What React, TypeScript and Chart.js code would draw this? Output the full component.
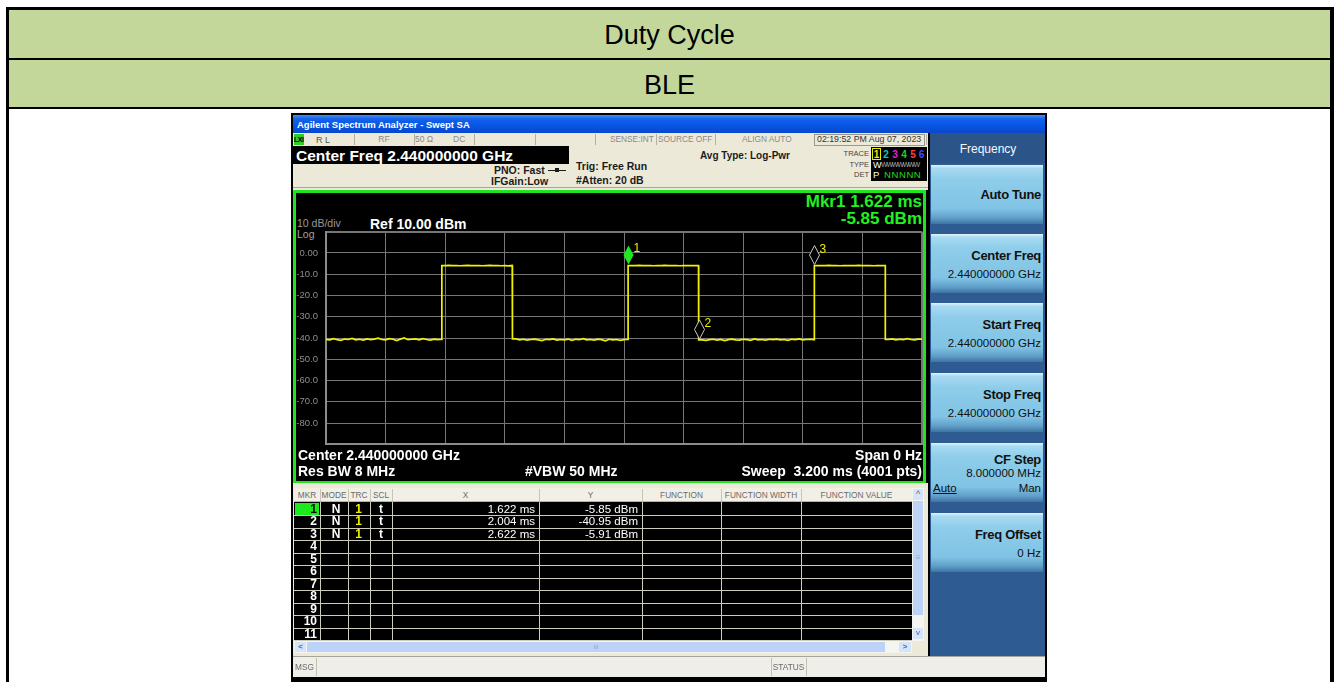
import React, { useEffect, useRef } from 'react';
import { Chart, registerables } from 'chart.js';
Chart.register(...registerables);

// ---------- data ----------
const titleRows = ['Duty Cycle', 'BLE'];

const sweepMs = 3.2;
const traceStepMs = 0.02;
const noiseA = [-40.6, -40.9, -40.3, -40.8, -41.1, -40.5, -40.7, -40.2, -40.9, -40.6, -41.0, -40.4, -40.8, -40.5, -40.1, -40.7, -40.9, -40.3, -40.6, -41.2, -40.5, -40.0, -40.8, -40.6, -40.4, -40.9, -40.3, -40.7, -41.0, -40.5, -40.8, -40.6];
const pulse1 = [-5.9, -5.8, -5.9, -5.9, -6.0, -5.9, -5.8, -5.9, -5.9, -5.9, -6.0, -5.9, -5.8, -5.9, -5.9, -6.0, -5.9, -6.1, -5.9];
const noiseB = [-40.4, -40.9, -40.6, -41.0, -40.7, -40.5, -40.9, -41.2, -40.6, -40.8, -40.4, -41.0, -40.7, -40.9, -40.5, -41.1, -40.6, -40.8, -40.3, -40.9, -40.7, -41.0, -40.5, -40.8, -41.3, -40.6, -40.9, -40.7, -41.1, -40.8, -40.6];
const pulse2 = [-5.9, -5.9, -5.8, -5.9, -5.9, -5.9, -6.0, -5.9, -5.9, -5.8, -5.9, -5.9, -5.9, -6.0, -5.9, -5.9, -5.9, -5.9, -5.9];
const noiseC = [-40.9, -41.1, -40.8, -40.6, -41.0, -40.7, -41.2, -40.8, -40.5, -40.9, -41.0, -40.6, -40.8, -41.1, -40.4, -40.9, -40.7, -41.0, -40.6, -40.8, -40.5, -40.9, -40.7, -41.1, -40.6, -40.8, -40.4, -40.9, -40.7, -40.6, -40.8];
const pulse3 = [-5.9, -5.9, -5.9, -5.8, -5.9, -5.9, -6.0, -5.9, -5.9, -5.9, -5.9, -5.8, -5.9, -5.9, -5.9, -6.0, -5.9, -5.9, -5.9];
const noiseD = [-40.7, -40.4, -40.9, -40.6, -40.8, -40.3, -40.7, -40.9, -40.5, -40.6];
const edgeTimesMs = [0.622, 1.001, 1.622, 2.001, 2.622, 3.003];

const xDivisionsMs = [0, 0.32, 0.64, 0.96, 1.28, 1.6, 1.92, 2.24, 2.56, 2.88, 3.2];
const yDivisionsDbm = [10, 0, -10, -20, -30, -40, -50, -60, -70, -80, -90];

const markerIds = [1, 2, 3];
const markerTimesMs = [1.622, 2.004, 2.622];
const markerLevelsDbm = [-5.85, -40.95, -5.91];
const markerModes = ['N', 'N', 'N'];
const markerTraces = ['1', '1', '1'];
const markerScales = ['t', 't', 't'];
const tableRowIds = ['1', '2', '3', '4', '5', '6', '7', '8', '9', '10', '11'];
const tableHeaders = ['MKR', 'MODE', 'TRC', 'SCL', 'X', 'Y', 'FUNCTION', 'FUNCTION WIDTH', 'FUNCTION VALUE'];

const softkeyTitles = ['Auto Tune', 'Center Freq', 'Start Freq', 'Stop Freq', 'CF Step', 'Freq Offset'];
const softkeyValues = ['', '2.440000000 GHz', '2.440000000 GHz', '2.440000000 GHz', '8.000000 MHz', '0 Hz'];

// ---------- helpers ----------
const W = 1335;
const F = '"Liberation Sans", Arial, Helvetica, sans-serif';

const Box = ({ x, y, w, h, bg, style, children }: any) => (
  <div style={{ position: 'absolute', left: x, top: y, width: w, height: h, background: bg, ...style }}>{children}</div>
);

const T = ({ x, y, t, s = 12, b = false, c = '#000', a = 'l', st }: any) => {
  const lh = Math.ceil(s * 1.25);
  const base: any = {
    position: 'absolute', top: y - lh / 2, lineHeight: lh + 'px', height: lh, fontSize: s,
    fontWeight: b ? 700 : 400, color: c, fontFamily: F, whiteSpace: 'pre', ...st,
  };
  if (a === 'l') base.left = x;
  else if (a === 'r') base.right = W - x;
  else { base.left = x - 300; base.width = 600; base.textAlign = 'center'; }
  return <div style={base}>{t}</div>;
};

function buildTrace() {
  const dbm = [...noiseA, ...pulse1, ...noiseB, ...pulse2, ...noiseC, ...pulse3, ...noiseD];
  const pts: any[] = [];
  let e = 0;
  dbm.forEach((v, i) => {
    const t = +(i * traceStepMs).toFixed(4);
    while (e < edgeTimesMs.length && edgeTimesMs[e] <= t) {
      pts.push({ x: edgeTimesMs[e], y: dbm[i - 1] });
      pts.push({ x: edgeTimesMs[e], y: v });
      e++;
    }
    pts.push({ x: t, y: v });
  });
  return pts;
}

const yLabel = (v: number) => (v === 0 ? '0.00' : v >= 10 || v <= -90 ? '' : v.toFixed(1));

const markerPlugin = {
  id: 'markers',
  afterDatasetsDraw(chart: any) {
    const { ctx } = chart;
    const xs = chart.scales.x;
    const ys = chart.scales.y;
    ctx.save();
    markerTimesMs.forEach((t, i) => {
      const px = Math.round(xs.getPixelForValue(t)) + 0.5;
      const py = ys.getPixelForValue(markerLevelsDbm[i]) - 1;
      const hw = 5, h = 19;
      ctx.beginPath();
      ctx.moveTo(px, py);
      ctx.lineTo(px + hw, py - h / 2);
      ctx.lineTo(px, py - h);
      ctx.lineTo(px - hw, py - h / 2);
      ctx.closePath();
      if (i === 0) {
        ctx.fillStyle = '#1ee81e';
        ctx.fill();
      } else {
        ctx.fillStyle = '#000';
        ctx.fill();
        ctx.strokeStyle = '#c8c8c8';
        ctx.lineWidth = 1;
        ctx.stroke();
      }
      ctx.fillStyle = '#f0f000';
      ctx.font = '12px "Liberation Sans"';
      ctx.textBaseline = 'alphabetic';
      ctx.textAlign = 'left';
      ctx.fillText(String(markerIds[i]), px + 5, py - 12);
    });
    ctx.restore();
  },
};

function TracePlot() {
  const ref = useRef<HTMLCanvasElement>(null);
  useEffect(() => {
    const gridW = (edge: any[]) => (c: any) => (c.tick && edge.includes(c.tick.value) ? 2 : 1);
    const chart = new Chart(ref.current as HTMLCanvasElement, {
      type: 'line',
      data: {
        datasets: [{
          data: buildTrace(), borderColor: '#f2f200', borderWidth: 1.7, pointRadius: 0,
          tension: 0, fill: false,
        } as any],
      },
      options: {
        animation: false, responsive: false, maintainAspectRatio: false, events: [],
        layout: { padding: { left: 0, right: 1, top: 7.75, bottom: 7.75 } },
        plugins: { legend: { display: false }, tooltip: { enabled: false } },
        scales: {
          x: {
            type: 'linear', min: 0, max: sweepMs,
            afterBuildTicks: (s: any) => { s.ticks = xDivisionsMs.map((v) => ({ value: v })); },
            afterFit: (s: any) => { s.height = 0; s.paddingLeft = 0; s.paddingRight = 0; },
            ticks: { display: false },
            grid: { color: '#767676', lineWidth: gridW([0, 3.2]), drawTicks: false },
            border: { color: '#8c8c8c', width: 2 },
          },
          y: {
            type: 'linear', min: -90, max: 10,
            afterBuildTicks: (s: any) => { s.ticks = yDivisionsDbm.map((v) => ({ value: v })); },
            afterFit: (s: any) => { s.width = 30; s.paddingTop = 0; s.paddingBottom = 0; },
            ticks: {
              padding: 8, color: '#8e8e8e', font: { family: 'Liberation Sans', size: 9.5 },
              callback: (v: any) => yLabel(Number(v)),
            },
            grid: { color: '#767676', lineWidth: gridW([10, -90]), drawTicks: false },
            border: { color: '#8c8c8c', width: 2 },
          },
        },
      } as any,
      plugins: [markerPlugin],
    });
    return () => chart.destroy();
  }, []);
  return <canvas ref={ref} width={627} height={228} style={{ position: 'absolute', left: 296, top: 224 }} />;
}

const colX = [294, 320, 348, 370, 392, 539, 642, 721, 801, 912];
const statusSeps = [354, 414, 474, 535, 595, 656, 715, 926];
const softkeyTops = [165, 234, 303, 373, 443, 513];

export default function App() {
  const grey = '#8a8a8a';
  const dark = '#1c1c1c';
  return (
    <div style={{ position: 'absolute', left: 0, top: 0, width: W, height: 682, overflow: 'hidden', background: '#fff', fontFamily: F }}>
      {/* outer table */}
      <Box x={6} y={7} w={1328} h={700} bg="#000" />
      <Box x={9} y={10} w={1321} h={48} bg="#c4d79b" />
      <Box x={9} y={60} w={1321} h={47} bg="#c4d79b" />
      <Box x={9} y={109} w={1321} h={600} bg="#fff" />
      <T x={669.5} y={35} t={titleRows[0]} s={27} a="c" />
      <T x={669.5} y={85} t={titleRows[1]} s={27} a="c" />

      {/* screenshot frame */}
      <Box x={291} y={113} w={756} h={600} bg="#000" />
      <Box x={293} y={115} w={752} h={18} bg="linear-gradient(180deg,#4a8cf6 0%,#1262ec 22%,#0653e2 65%,#0a47c8 100%)" />
      <T x={297} y={125} t="Agilent Spectrum Analyzer - Swept SA" s={9.5} b c="#fff" />

      {/* status row */}
      <Box x={293} y={133} w={635} h={13} bg="#ece9d8" />
      {statusSeps.map((x) => <Box key={x} x={x} y={134} w={1} h={11} bg="#b3b0a3" />)}
      <Box x={814} y={134} w={111} h={12} style={{ border: '1px solid #9c998c', boxSizing: 'border-box' }} />
      <Box x={294} y={134} w={10} h={11} bg="#2fcc22" />
      <T x={294} y={139.5} t="LXI" s={7} b c="#000" st={{ letterSpacing: -0.5 }} />
      <T x={316} y={139.5} t="R L" s={9} c="#555" />
      <T x={384} y={139.5} t="RF" s={8.5} c={grey} a="c" />
      <T x={415} y={139.5} t="50 Ω" s={8.5} c={grey} />
      <T x={453} y={139.5} t="DC" s={8.5} c={grey} />
      <T x={610} y={139.5} t="SENSE:INT" s={8.3} c={grey} />
      <T x={658} y={139.5} t="SOURCE OFF" s={8.3} c={grey} />
      <T x={742} y={139.5} t="ALIGN AUTO" s={8.3} c={grey} />
      <T x={817} y={139.5} t="02:19:52 PM Aug 07, 2023" s={8.8} c="#333" />

      {/* setting area */}
      <Box x={293} y={146} w={635} h={44} bg="#ece9d8" />
      <Box x={293} y={187} w={635} h={1} bg="#a9a698" />
      <Box x={293} y={146} w={276} h={18} bg="#000" />
      <T x={296} y={155.5} t="Center Freq 2.440000000 GHz" s={15.5} b c="#fff" />
      <T x={494} y={170} t="PNO: Fast" s={10.5} b c={dark} />
      <Box x={548} y={170} w={18} h={1} bg={dark} />
      <Box x={555} y={168} w={4} h={4} bg={dark} />
      <T x={491} y={181} t="IFGain:Low" s={10.5} b c={dark} />
      <T x={576} y={166} t="Trig: Free Run" s={10.5} b c={dark} />
      <T x={576} y={179.5} t="#Atten: 20 dB" s={10.5} b c={dark} />
      <T x={700} y={155} t="Avg Type: Log-Pwr" s={10} b c={dark} />
      <T x={869} y={154} t="TRACE" s={7.5} c="#444" a="r" />
      <T x={869} y={164.5} t="TYPE" s={7.5} c="#444" a="r" />
      <T x={869} y={174.5} t="DET" s={7.5} c="#444" a="r" />
      <Box x={871} y={147} w={56} h={34} bg="#000" />
      <Box x={872} y={148} w={9} h={12} style={{ border: '1px solid #e8e800', boxSizing: 'border-box' }} />
      <T x={876.5} y={154} t="1" s={10} b c="#e8e800" a="c" />
      <T x={886} y={154} t="2" s={10} b c="#10c4c4" a="c" />
      <T x={895} y={154} t="3" s={10} b c="#e020e0" a="c" />
      <T x={904} y={154} t="4" s={10} b c="#22d022" a="c" />
      <T x={913} y={154} t="5" s={10} b c="#ff4040" a="c" />
      <T x={921.5} y={154} t="6" s={10} b c="#4c4cff" a="c" />
      <T x={873} y={164.5} t="W" s={9} c="#fff" />
      <T x={881} y={164.5} t="WWWWWWW" s={7} c="#aaa" st={{ letterSpacing: -1.2 }} />
      <T x={873} y={174.5} t="P" s={9.5} c="#fff" />
      <T x={884} y={174.5} t="NNNNN" s={9.5} c="#22dd22" st={{ letterSpacing: 0.6 }} />

      {/* display */}
      <Box x={293} y={190} w={633} h={293} bg="#1fe51f" />
      <Box x={296} y={193} w={627} h={288} bg="#000" />
      <T x={922} y={201.5} t={`Mkr${markerIds[0]} ${markerTimesMs[0].toFixed(3)} ms`} s={17} b c="#22f022" a="r" />
      <T x={922} y={218.5} t={`${markerLevelsDbm[0].toFixed(2)} dBm`} s={17} b c="#22f022" a="r" />
      <T x={297} y={222.5} t="10 dB/div" s={10.5} c="#9a9a9a" />
      <T x={370} y={223.5} t="Ref 10.00 dBm" s={14} b c="#fff" />
      <T x={297} y={233.5} t="Log" s={10.5} c="#a0a0a0" />
      <TracePlot />
      <T x={298} y={455} t="Center 2.440000000 GHz" s={14} b c="#fff" />
      <T x={298} y={470.5} t="Res BW 8 MHz" s={14} b c="#fff" />
      <T x={525} y={470.5} t="#VBW 50 MHz" s={14} b c="#fff" />
      <T x={922} y={455} t="Span 0 Hz" s={14} b c="#fff" a="r" />
      <T x={922} y={470.5} t="Sweep  3.200 ms (4001 pts)" s={14} b c="#fff" a="r" />

      {/* marker table */}
      <Box x={293} y={483} w={635} h={174} bg="#ece9d8" />
      <Box x={294} y={488} w={618} h={14} bg="#f1efe6" style={{ borderBottom: '1px solid #b8b4a4', boxSizing: 'border-box' }} />
      {tableHeaders.map((h, i) => (
        <T key={h} x={(colX[i] + colX[i + 1]) / 2} y={495} t={h} s={8.3} c="#6a6a6a" a="c" />
      ))}
      {colX.slice(1, 9).map((x) => <Box key={'h' + x} x={x} y={489} w={1} h={12} bg="#c9c5b5" />)}
      <Box x={294} y={502} w={618} h={139} bg="#000" />
      {tableRowIds.map((_, i) => <Box key={'r' + i} x={294} y={515 + i * 12.5} w={618} h={1} bg="#cfcbbb" />)}
      {colX.slice(1, 9).map((x) => <Box key={'c' + x} x={x} y={502} w={1} h={139} bg="#cfcbbb" />)}
      <Box x={295} y={503} w={24} h={12} bg="#1ee81e" />
      {tableRowIds.map((id, i) => (
        <T key={'id' + id} x={317} y={509 + i * 12.5} t={id} s={12} b c={i === 0 ? '#000' : '#fff'} a="r" />
      ))}
      {markerIds.map((id, i) => (
        <React.Fragment key={'m' + id}>
          <T x={336} y={509 + i * 12.5} t={markerModes[i]} s={12} b c="#fff" a="c" />
          <T x={358.5} y={509 + i * 12.5} t={markerTraces[i]} s={12} b c="#f0f000" a="c" />
          <T x={381} y={509 + i * 12.5} t={markerScales[i]} s={12} b c="#fff" a="c" />
          <T x={535} y={509 + i * 12.5} t={`${markerTimesMs[i].toFixed(3)} ms`} s={11.5} c="#fff" a="r" />
          <T x={638} y={509 + i * 12.5} t={`${markerLevelsDbm[i].toFixed(2)} dBm`} s={11.5} c="#fff" a="r" />
        </React.Fragment>
      ))}
      {/* scrollbars */}
      <Box x={912} y={488} w={12} h={153} bg="#f4f4f0" />
      <Box x={913} y={489} w={10} h={11} bg="#d6e4fa" />
      <T x={918} y={494} t="^" s={9} c="#4a6aa0" a="c" />
      <Box x={913} y={501} w={10} h={114} bg="#bcd2f6" />
      <T x={918} y={558} t="≡" s={8} c="#8aa6d6" a="c" />
      <Box x={913} y={628} w={10} h={11} bg="#d6e4fa" />
      <T x={918} y={633} t="v" s={8} c="#4a6aa0" a="c" />
      <Box x={294} y={641} w={618} h={12} bg="#f4f4f0" />
      <Box x={295} y={642} w={11} h={10} bg="#d6e4fa" />
      <T x={300.5} y={647} t="<" s={8} b c="#4a6aa0" a="c" />
      <Box x={307} y={642} w={578} h={10} bg="#bcd2f6" />
      <T x={596} y={647} t="III" s={6} c="#8aa6d6" a="c" />
      <Box x={899} y={642} w={12} h={10} bg="#d6e4fa" />
      <T x={905} y={647} t=">" s={8} b c="#4a6aa0" a="c" />

      {/* msg bar */}
      <Box x={293} y={656} w={752} h={21} bg="#efeee9" style={{ borderTop: '1px solid #a6a498', boxSizing: 'border-box' }} />
      <T x={295} y={667} t="MSG" s={8.3} c="#6a6a6a" />
      <Box x={316} y={658} w={1} h={18} bg="#c4c1b4" />
      <Box x={771} y={658} w={1} h={18} bg="#c4c1b4" />
      <Box x={806} y={658} w={1} h={18} bg="#c4c1b4" />
      <T x={788.5} y={667} t="STATUS" s={8.3} c="#6a6a6a" a="c" />

      {/* softkey panel */}
      <Box x={930} y={133} w={115} h={523} bg="#2e5c92" />
      <Box x={930} y={133} w={115} h={30} bg="#2b5588" />
      <T x={988} y={149} t="Frequency" s={12} c="#f4f8ff" a="c" />
      {softkeyTops.map((top, i) => (
        <React.Fragment key={'sk' + i}>
          <Box x={931} y={top} w={112} h={59}
            bg="linear-gradient(180deg,#e4f5fc 0px,#a8dbf2 3px,#8fcdea 14px,#80c3e4 44px,#609fc9 53px,#3d74a3 59px)" />
          {softkeyValues[i] === '' ? (
            <T x={1041} y={top + 29} t={softkeyTitles[i]} s={13} b c="#111" a="r" st={{ letterSpacing: -0.3 }} />
          ) : i === 4 ? (
            <>
              <T x={1041} y={top + 16.5} t={softkeyTitles[i]} s={13} b c="#111" a="r" st={{ letterSpacing: -0.3 }} />
              <T x={1041} y={top + 30.5} t={softkeyValues[i]} s={11.5} c="#111" a="r" />
              <T x={933} y={top + 45} t="Auto" s={11.5} c="#111" st={{ textDecoration: 'underline' }} />
              <T x={1041} y={top + 45} t="Man" s={11.5} c="#111" a="r" />
            </>
          ) : (
            <>
              <T x={1041} y={top + 21} t={softkeyTitles[i]} s={13} b c="#111" a="r" st={{ letterSpacing: -0.3 }} />
              <T x={1041} y={top + 40} t={softkeyValues[i]} s={11.5} c="#111" a="r" />
            </>
          )}
        </React.Fragment>
      ))}
    </div>
  );
}
